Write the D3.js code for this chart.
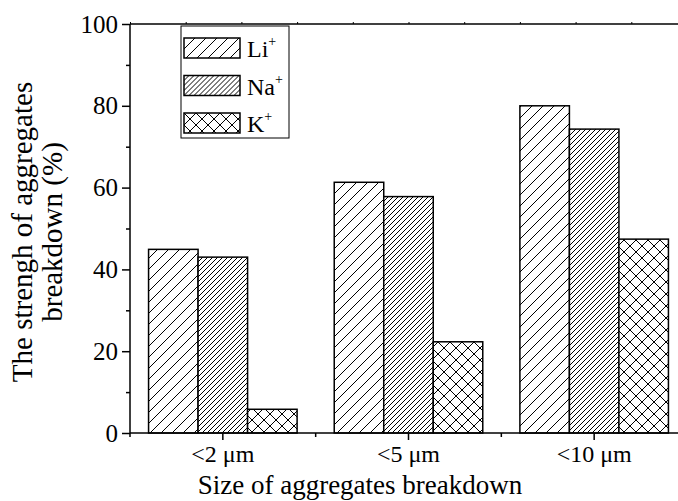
<!DOCTYPE html>
<html>
<head>
<meta charset="utf-8">
<title></title>
<script src="https://cdn.jsdelivr.net/npm/d3@7"></script>
<style>
body { margin: 0; background: #fff; }
text { font-family: "Liberation Serif", "Times New Roman", serif; fill: #000; }
</style>
</head>
<body>
<svg id="svg"></svg>
<script>
var width = 678;
var height = 501;

// data
const categories = ['<2 \u03bcm', '<5 \u03bcm', '<10 \u03bcm'];
const seriesNames = ['Li', 'Na', 'K'];
const liValues = [44.9, 61.3, 80.0];
const naValues = [43.0, 57.8, 74.3];
const kValues = [5.8, 22.3, 47.4];
const yTicks = [0, 20, 40, 60, 80, 100];
const yMinor = [10, 30, 50, 70, 90];

const values = [liValues, naValues, kValues];

const svg = d3.select('#svg')
    .attr('width', width)
    .attr('height', height);

// hatch patterns
const defs = svg.append('defs');
function hatch(id, size, cross) {
    const p = defs.append('pattern')
        .attr('id', id)
        .attr('patternUnits', 'userSpaceOnUse')
        .attr('width', size)
        .attr('height', size);
    p.append('rect').attr('width', size).attr('height', size).attr('fill', '#fff');
    p.append('path')
        .attr('d', 'M-1,1 L1,-1 M0,' + size + ' L' + size + ',0 M' + (size - 1) + ',' + (size + 1) + ' L' + (size + 1) + ',' + (size - 1))
        .attr('stroke', '#000').attr('stroke-width', 1);
    if (cross) {
        p.append('path')
            .attr('d', 'M-1,' + (size - 1) + ' L1,' + (size + 1) + ' M0,0 L' + size + ',' + size + ' M' + (size - 1) + ',-1 L' + (size + 1) + ',1')
            .attr('stroke', '#000').attr('stroke-width', 1);
    }
}
hatch('pLi', 11, false);
hatch('pNa', 5, false);
hatch('pK', 12, true);
const fills = { Li: 'url(#pLi)', Na: 'url(#pNa)', K: 'url(#pK)' };

const x0 = 130, x1 = 687, yBase = 433, yTop = 24;

const x = d3.scaleBand()
    .domain(categories)
    .range([x0, x1])
    .paddingInner(0.2)
    .paddingOuter(0.1);

const xs = d3.scaleBand()
    .domain(seriesNames)
    .range([0, x.bandwidth()]);

const y = d3.scaleLinear()
    .domain([0, 100])
    .range([yBase, yTop]);

// bars
categories.forEach(function (c, ci) {
    svg.append('g')
        .selectAll('rect')
        .data(seriesNames)
        .join('rect')
        .attr('x', d => x(c) + xs(d))
        .attr('y', (d, si) => y(values[si][ci]))
        .attr('width', xs.bandwidth())
        .attr('height', (d, si) => y(0) - y(values[si][ci]))
        .attr('fill', d => fills[d])
        .attr('stroke', '#000')
        .attr('stroke-width', 1.5);
});

// y axis
const yAxis = svg.append('g')
    .attr('transform', 'translate(' + x0 + ',0)')
    .call(d3.axisLeft(y).tickValues(yTicks).tickSize(8).tickPadding(4));
yAxis.select('.domain').remove();
yAxis.selectAll('line').attr('stroke', '#000').attr('stroke-width', 1.5);
yAxis.selectAll('text').style('font-size', '25px').attr('font-family', null);

svg.append('g')
    .attr('transform', 'translate(' + x0 + ',0)')
    .call(d3.axisLeft(y).tickValues(yMinor).tickSize(4).tickFormat(''))
    .call(g => g.select('.domain').remove())
    .selectAll('line').attr('stroke', '#000').attr('stroke-width', 1.5);

svg.append('line')
    .attr('x1', x0).attr('x2', x0)
    .attr('y1', y(100)).attr('y2', y(0))
    .attr('stroke', '#000').attr('stroke-width', 1.5);

// top frame line with tiny ticks
svg.append('line')
    .attr('x1', x0).attr('x2', width)
    .attr('y1', y(100)).attr('y2', y(100))
    .attr('stroke', '#000').attr('stroke-width', 1.5);
const xTop = d3.scaleLinear().domain([0, 10]).range([x0, x1]);
svg.append('g')
    .attr('transform', 'translate(0,' + y(100) + ')')
    .call(d3.axisTop(xTop).ticks(10).tickSize(2).tickFormat(''))
    .call(g => g.select('.domain').remove())
    .selectAll('line').attr('stroke', '#000').attr('stroke-width', 1);

// x axis
const xAxis = svg.append('g')
    .attr('transform', 'translate(0,' + yBase + ')')
    .call(d3.axisBottom(x).tickSize(7).tickPadding(5).tickSizeOuter(0));
xAxis.select('.domain').attr('stroke', '#000').attr('stroke-width', 1.5)
    .attr('d', 'M' + x0 + ',0H' + x1);
xAxis.selectAll('line').attr('stroke', '#000').attr('stroke-width', 1.5);
xAxis.selectAll('text').style('font-size', '24px').attr('font-family', null);

const bounds = categories.map(c => x(c) - x.step() * x.paddingInner() / 2).concat([x1]);
bounds[0] = x0;
svg.append('g')
    .selectAll('line')
    .data(bounds)
    .join('line')
    .attr('x1', d => d).attr('x2', d => d)
    .attr('y1', yBase).attr('y2', yBase + 4)
    .attr('stroke', '#000').attr('stroke-width', 1.5);

// axis titles
svg.append('text')
    .attr('x', 360).attr('y', 494)
    .attr('text-anchor', 'middle')
    .style('font-size', '27px')
    .text('Size of aggregates breakdown');

const yTitle = svg.append('text')
    .attr('transform', 'translate(0,232) rotate(-90)')
    .attr('text-anchor', 'middle')
    .style('font-size', '29px');
yTitle.append('tspan').attr('x', 0).attr('y', 32).text('The strengh of aggregates');
yTitle.append('tspan').attr('x', 0).attr('y', 62).text('breakdown (%)');

// legend
const legend = svg.append('g');
legend.append('rect')
    .attr('x', 181).attr('y', 26)
    .attr('width', 108).attr('height', 112)
    .attr('fill', '#fff')
    .attr('stroke', '#000').attr('stroke-width', 1);
const items = legend.selectAll('g.item')
    .data(seriesNames)
    .join('g')
    .attr('class', 'item')
    .attr('transform', (d, i) => 'translate(184,' + (38 + i * 37.5) + ')');
items.append('rect')
    .attr('width', 56).attr('height', 20)
    .attr('fill', d => fills[d])
    .attr('stroke', '#000').attr('stroke-width', 1.5);
const lt = items.append('text')
    .attr('x', 63).attr('y', 19)
    .style('font-size', '24px');
lt.append('tspan').text(d => d);
lt.append('tspan').attr('dy', -11).style('font-size', '14px').text('+');
</script>
</body>
</html>
